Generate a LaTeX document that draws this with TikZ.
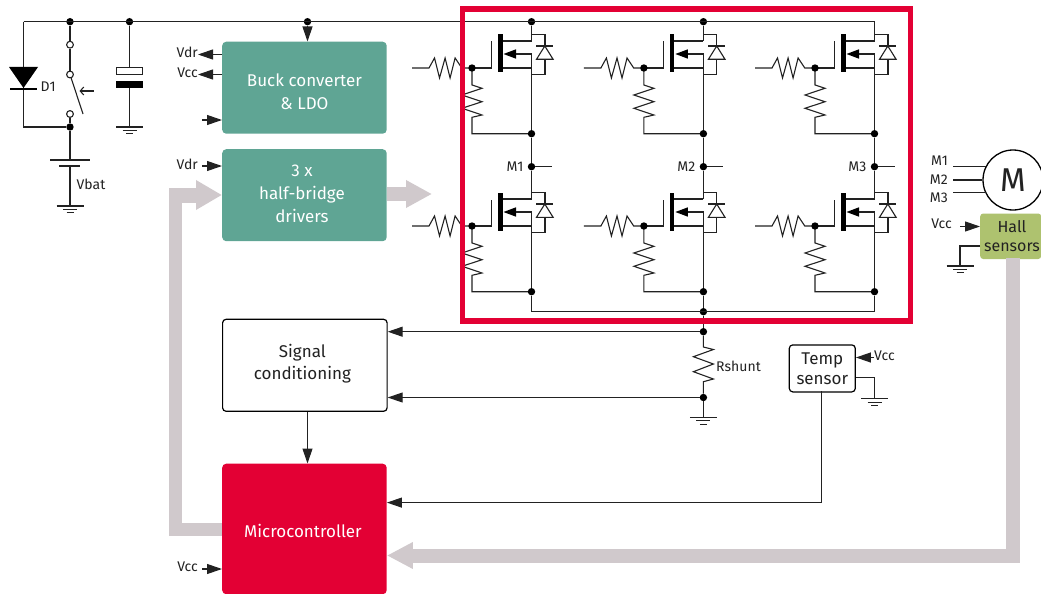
\documentclass[tikz,border=0pt]{standalone}
\usepackage{fontspec}
\setmainfont{Fira Sans}
\usetikzlibrary{arrows.meta,calc}
\definecolor{teal1}{HTML}{5FA594}
\definecolor{red1}{HTML}{E30034}
\definecolor{grey1}{HTML}{D0C9CC}
\definecolor{green1}{HTML}{AEC26F}
\definecolor{ink}{HTML}{222222}
\tikzset{
  wire/.style={draw=ink,line width=1.1pt,line join=miter},
  arr/.style={wire,-{Triangle[length=15pt,width=10pt]}},
  dotn/.style={circle,fill=black,draw=none,minimum size=7.4pt,inner sep=0pt},
  ring/.style={circle,fill=white,draw=ink,line width=1.1pt,minimum size=6.8pt,inner sep=0pt},
  lab/.style={text=ink,inner sep=0pt,font=\fontsize{14}{16}\selectfont},
  block/.style={rounded corners=4pt,draw=none,inner sep=0pt,minimum width=164.5pt},
  btext/.style={inner sep=0pt,align=center,text=white,font=\fontsize{17}{22.7}\selectfont},
  wbox/.style={rounded corners=3.5pt,draw=black,line width=1.2pt,fill=white,inner sep=0pt,align=center,
     text=ink,font=\fontsize{17}{23}\selectfont},
  thick arrow/.style={draw=grey1,line width=#1,line join=miter},
  gndp/.pic={
    \draw[wire] (-13.5,0)--(13.5,0);
    \draw[wire] (-7,3.4)--(7,3.4);
    \draw[wire] (-3.5,6.8)--(3.5,6.8);
  },
  fet/.pic={
    \fill[black] (-33.2,-33.5) rectangle (-29,4.5);
    \draw[wire] (-59.5,0)--(-39.7,0)--(-39.7,-26.5);
    \draw[wire] (-29,-27)--(0,-27);
    \draw[wire] (-29,0)--(0,0)--(0,65.7);
    \draw[wire] (0,0)--(0,-14)--(-10,-14);
    \fill[black] (-28,-14)--(-15.5,-9.3)--(-15.5,-18.7)--cycle;
    \draw[wire] (-15.5,-14)--(-10,-14);
    \draw[wire] (0,-33.5)--(13.5,-33.5)--(13.5,6.5)--(0,6.5);
    \draw[wire,fill=white] (13.3,-22)--(5,-8.7)--(21.6,-8.7)--cycle;
    \draw[wire] (4.8,-22)--(21.8,-22);
    \draw[wire] (-119.5,0)--(-102.5,0)--(-97,-10)--(-92,10)--(-86.4,-10)--(-81.4,10)--(-76.4,-10)--(-69.7,0)--(-59.5,0);
    \draw[wire] (-59.5,0)--(-59.5,17)--(-49.5,20.3)--(-69.5,27)--(-49.5,33.7)--(-69.5,40.3)--(-49.5,47)--(-59.5,49.3)--(-59.5,65.7)--(0,65.7);
    \node[dotn] (-s) at (0,65.7) {};
    \coordinate (-d) at (0,-27);
  },
  fetdot/.pic={\node[dotn] (-g) at (-59.5,0) {};}
}
\begin{document}
\begin{tikzpicture}[x=1pt,y=-1pt]
\useasboundingbox (0,0) rectangle (1041,594);

\node[block,fill=teal1,minimum height=92pt,anchor=north west] (buck) at (222,41.5) {};
\node[block,fill=teal1,minimum height=92pt,anchor=north west] (hb) at (222,149) {};
\node[wbox,minimum width=164.5pt,minimum height=92pt,anchor=north west] (sc) at (222,318.7) {};
\node[block,fill=red1,minimum height=130.5pt,anchor=north west] (mcu) at (222,463.5) {};
\node[btext] (bucktxt) at ($(buck.center)+(0,4)$) {Buck converter\\\& LDO};
\node[btext] (hbtxt) at ($(hb.center)+(-2.5,-1.3)$) {3 x\\half-bridge\\drivers};
\node[btext,text=ink] (sctxt) at ($(sc.center)+(-2.5,-1.5)$) {Signal\\conditioning};
\node[btext] (mcutxt) at ($(mcu.center)+(-1.5,2)$) {Microcontroller};
\node[wbox,minimum width=66pt,minimum height=47pt,anchor=north west,font=\fontsize{17}{20}\selectfont] (temp) at (788.7,344.3) {Temp\\sensor};
\node[rounded corners=3pt,fill=green1,minimum width=61pt,minimum height=45.5pt,anchor=north west,inner sep=0pt] (hall) at (980,213.3) {};
\node[text=ink,align=center,inner sep=0pt,font=\fontsize{16}{19}\selectfont] (halltxt) at (1012,236.5) {Hall\\sensors};
\node[circle,draw=black,line width=1.3pt,fill=white,minimum size=60pt,inner sep=0pt,text=ink,font=\fontsize{33}{36}\selectfont] (motor) at (1013,180) {M};

\coordinate (g1a) at (mcu.west |- 0,529.5);
\coordinate (g1b) at (175.5,529.5);
\coordinate (g1d) at (hb.west |- 0,195);
\draw[thick arrow=13pt] (g1a)--(g1b)--(175.5,188.5);
\draw[thick arrow=15pt,-{Triangle[length=26pt,width=28pt]}] (169,195)--(g1d);
\coordinate (g2a) at (hb.east |- 0,194);
\coordinate (g2b) at (432,194);
\draw[thick arrow=14pt,-{Triangle[length=26pt,width=26pt]}] (g2a)--(g2b);
\coordinate (g3a) at (1013,258);
\coordinate (g3b) at (1013,555.5);
\coordinate (g3c) at (mcu.east |- 0,555.5);
\draw[thick arrow=14pt,-{Triangle[length=26pt,width=25pt]}] (g3a)--(g3b)--(g3c);

% top bus and dots
\node[dotn] (t1) at (70,21.7) {};
\node[dotn] (t2) at (129.5,21.7) {};
\node[dotn] (t3) at (307.5,21.7) {};
\node[dotn] (t4) at (531.5,21.7) {};
\node[dotn] (t5) at (703.4,21.7) {};
\coordinate (tl) at (23.5,21.7);
\coordinate (tr) at (874.5,21.7);
\draw[wire] (tl)--(tr);

% left part: diode
\node[dotn] (b1) at (70,127) {};
\coordinate (bl) at (23.5,127);
\draw[wire] (tl)--(bl)--(b1);
\fill[black] (9,67)--(38,67)--(23.5,88)--cycle;
\draw[black,line width=2pt] (10,88.7)--(37,88.7);
\node[lab,anchor=west] (d1lab) at (40.5,86.5) {D1};

% switch
\node[ring] (s1) at (70,44.7) {};
\node[ring] (s2) at (70,74.5) {};
\node[ring] (s3) at (70,114) {};
\draw[wire] (t1)--(s1);
\draw[wire] (s1)--(s2);
\draw[wire] (s3)--(b1);
\coordinate (blade) at (83,114);
\draw[wire] (s2)--(blade);
\coordinate (sa) at (93.5,91);
\coordinate (sb) at (79.5,91);
\draw[wire,-{Straight Barb[length=3.5pt,width=8pt]}] (sa)--(sb);

% battery
\coordinate (bp1) at (70,160);
\coordinate (bp2) at (70,166);
\coordinate (gbat) at (70,206);
\draw[wire] (b1)--(bp1);
\draw[wire] (bp2)--(gbat);
\draw[wire] (50,160)--(90,160);
\draw[wire] (59,166)--(80,166);
\pic at (gbat) {gndp};
\node[lab,anchor=west] (vbat) at (76.5,184) {Vbat};

% capacitor
\coordinate (ct) at (129.5,68);
\coordinate (cb) at (129.5,87.5);
\coordinate (gcap) at (129.5,127);
\draw[wire] (t2)--(ct);
\draw[wire] (cb)--(gcap);
\draw[wire,fill=white,line width=1pt] (116.3,68) rectangle (142.7,74.5);
\fill[black] (116,81) rectangle (143,87.5);
\pic at (gcap) {gndp};

% buck connections
\coordinate (buckt) at (buck.north -| t3);
\draw[arr] (t3)--(buckt);
\node[lab,anchor=east] (vdr1) at (198,52) {Vdr};
\node[lab,anchor=east] (vcc1) at (198,72.5) {Vcc};
\coordinate (a1) at (buck.west |- 0,54.5);
\coordinate (a2) at (buck.west |- 0,74.5);
\coordinate (a3) at (buck.west |- 0,120);
\coordinate (a3s) at (202,120);
\draw[arr] (a1)--(vdr1.east |- a1);
\draw[arr] (a2)--(vcc1.east |- a2);
\draw[arr] (a3s)--(a3);
\node[lab,anchor=east] (vdr2) at (198,164.5) {Vdr};
\coordinate (a4) at (hb.west |- 0,166);
\coordinate (a4s) at (202,166);
\draw[arr] (a4s)--(a4);
\node[lab,anchor=east] (vcc2) at (198,567) {Vcc};
\coordinate (a5) at (mcu.west |- 0,569);
\coordinate (a5s) at (202,569);
\draw[arr] (a5s)--(a5);

% half bridges
\pic (q1) at (531.5,68) {fet};
\pic (q2) at (703.4,68) {fet};
\pic (q3) at (874.5,68) {fet};
\pic (q4) at (531.5,226) {fet};
\pic (q5) at (703.4,226) {fet};
\pic (q6) at (874.5,226) {fet};
\draw[wire] (t4)--(q1-d);
\draw[wire] (t5)--(q2-d);
\draw[wire] (tr)--(q3-d);
\node[dotn] (m1) at (531.5,166.7) {};
\node[dotn] (m2) at (703.4,166.7) {};
\node[dotn] (m3) at (874.5,166.7) {};
\draw[wire] (q1-s)--(m1)--(q4-d);
\draw[wire] (q2-s)--(m2)--(q5-d);
\draw[wire] (q3-s)--(m3)--(q6-d);
\coordinate (m1e) at (551.5,166.7);
\coordinate (m2e) at (723,166.7);
\coordinate (m3e) at (894.5,166.7);
\draw[wire] (m1)--(m1e);
\draw[wire] (m2)--(m2e);
\draw[wire] (m3)--(m3e);
\node[lab,anchor=east] (m1l) at (523.5,166.5) {M1};
\node[lab,anchor=east] (m2l) at (695.5,166.5) {M2};
\node[lab,anchor=east] (m3l) at (866.5,166.5) {M3};

% bottom bus
\node[dotn] (bb) at (703.4,311.7) {};
\coordinate (bbl) at (531.5,311.7);
\coordinate (bbr) at (874.5,311.7);
\draw[wire] (q4-s)--(bbl)--(bbr)--(q6-s);
\draw[wire] (q5-s)--(bb);

% shunt
\node[dotn] (sh1) at (703.4,331.7) {};
\node[dotn] (sh2) at (703.4,397.5) {};
\coordinate (gsh) at (703.4,417.3);
\draw[wire] (bb)--(sh1);
\draw[wire] (sh1)--(703.4,347)--(713.4,349.5)--(693.4,356.7)--(713.4,364)--(693.4,371.7)--(713.4,379)--(703.4,381.7)--(sh2);
\draw[wire] (sh2)--(gsh);
\pic at (gsh) {gndp};
\node[lab,anchor=west] (rsh) at (716,366) {Rshunt};
\draw[arr] (sh1)--(sc.east |- sh1);
\draw[arr] (sh2)--(sc.east |- sh2);
\coordinate (scb) at (sc.south -| t3);
\coordinate (mct) at (mcu.north -| t3);
\draw[arr] (scb)--(mct);

% temperature sensor
\node[lab,anchor=west] (vcc3) at (874,356) {Vcc};
\coordinate (ta) at (temp.east |- 0,357.5);
\draw[arr] (vcc3.west |- ta)--(ta);
\coordinate (tg1) at (temp.east |- 0,377.5);
\coordinate (tg2) at (874.5,377.5);
\coordinate (tg3) at (874.5,398.7);
\draw[wire] (tg1)--(tg2)--(tg3);
\pic at (tg3) {gndp};
\coordinate (ts1) at (821.6,391.3);
\coordinate (ts2) at (821.6,502.6);
\draw[arr] (ts1)--(ts2)--(mcu.east |- ts2);

% motor and hall
\node[lab,anchor=east] (ml1) at (948,161) {M1};
\node[lab,anchor=east] (ml2) at (948,180) {M2};
\node[lab,anchor=east] (ml3) at (948,198) {M3};
\coordinate (me1) at (953,166.7);
\coordinate (me2) at (953,180);
\coordinate (me3) at (953,192.7);
\coordinate (me1e) at (986,166.7);
\coordinate (me3e) at (986,192.7);
\draw[wire] (me1)--(me1e);
\draw[wire] (me2)--(motor.west);
\draw[wire] (me3)--(me3e);
\node[lab,anchor=east] (vcc4) at (952,224) {Vcc};
\coordinate (ha) at (hall.west |- 0,226.5);
\coordinate (has) at (960,226.5);
\draw[arr] (has)--(ha);
\coordinate (hg1) at (hall.west |- 0,246);
\coordinate (hg2) at (960,246);
\coordinate (hg3) at (960,266);
\draw[wire] (hg1)--(hg2)--(hg3);
\pic at (hg3) {gndp};

% red frame
\node[draw=red1,line width=5.5pt,outer sep=0pt,minimum width=448pt,minimum height=312.2pt,anchor=north west,inner sep=0pt] (frame) at (462.5,8.8) {};
\pic (q1) at (531.5,68) {fetdot};
\pic (q2) at (703.4,68) {fetdot};
\pic (q3) at (874.5,68) {fetdot};
\pic (q4) at (531.5,226) {fetdot};
\pic (q5) at (703.4,226) {fetdot};
\pic (q6) at (874.5,226) {fetdot};
\end{tikzpicture}
\end{document}
